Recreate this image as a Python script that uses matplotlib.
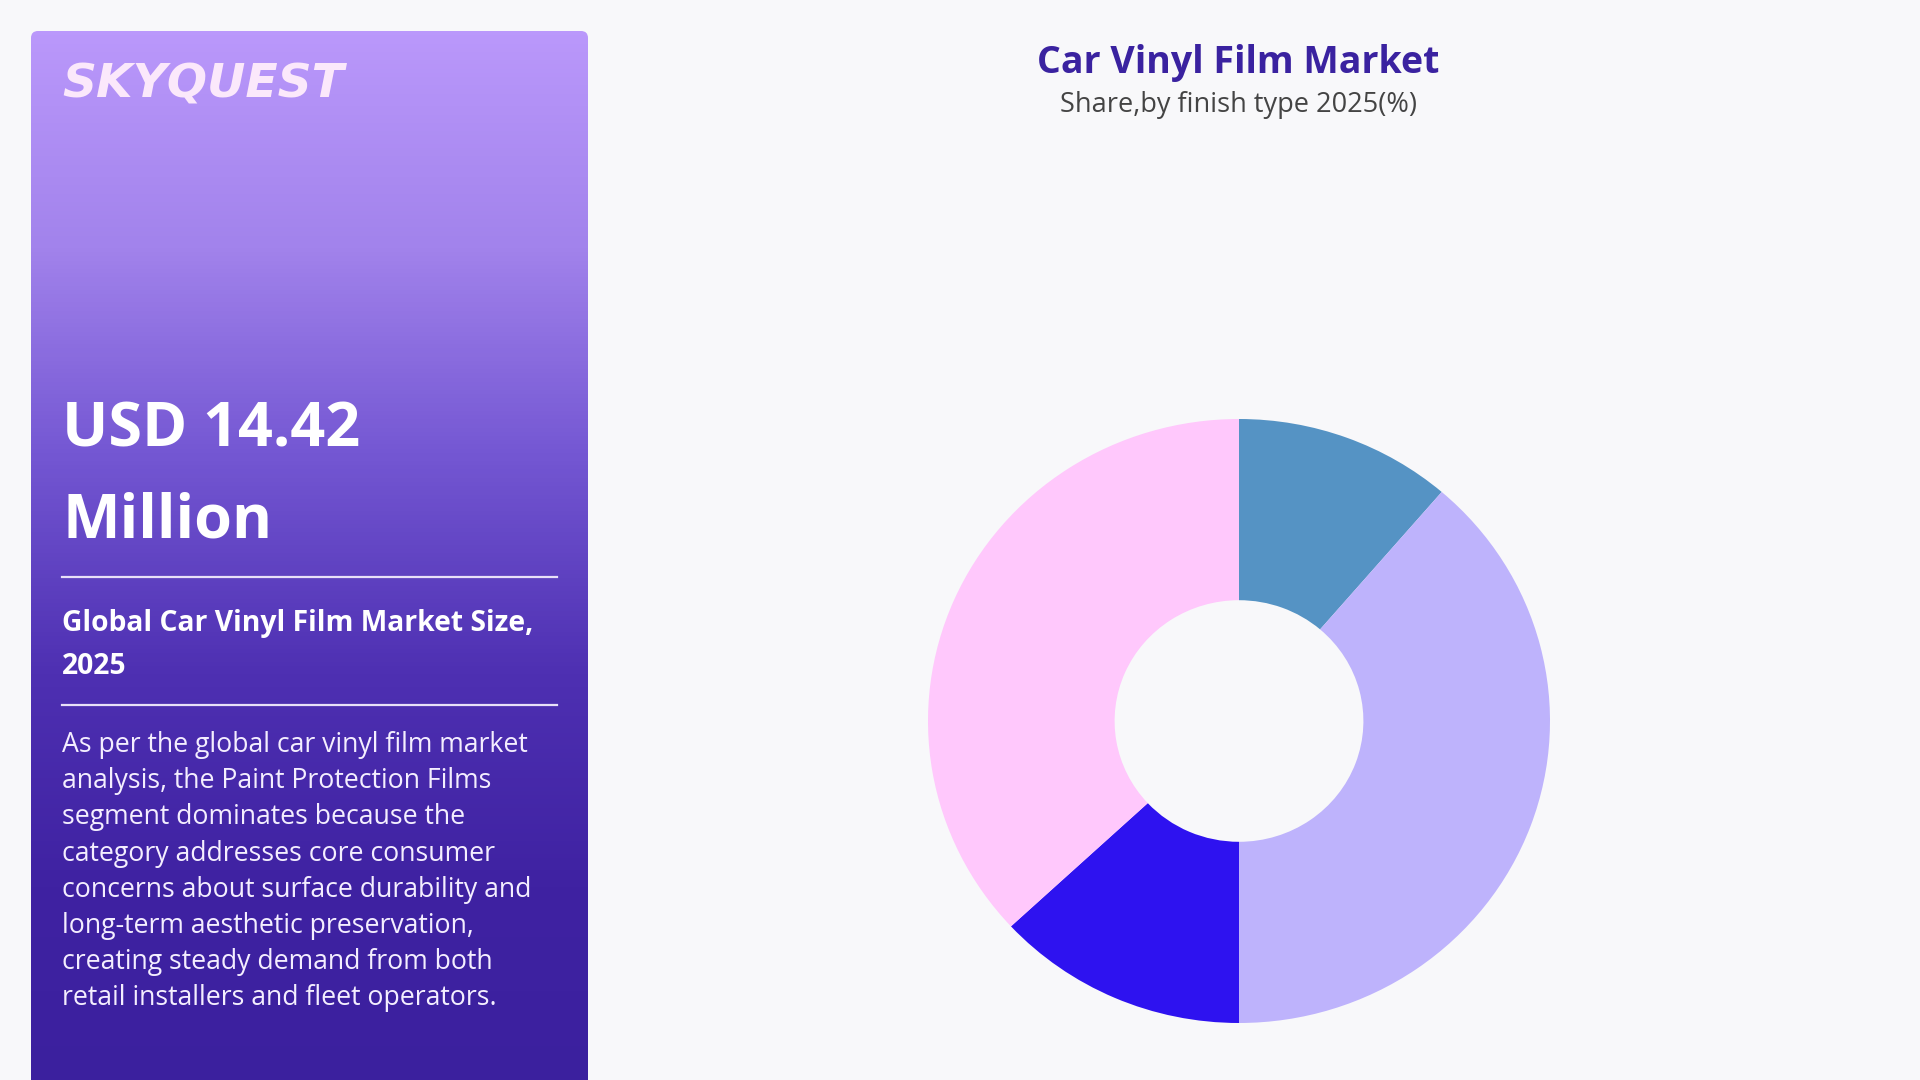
import matplotlib
matplotlib.use("Agg")
import matplotlib.pyplot as plt
import numpy as np
from matplotlib.colors import LinearSegmentedColormap
from matplotlib.patches import FancyBboxPatch

# Donut data: share by finish type, 2025 (%)
segments = ["Gloss", "Matte", "Satin", "Paint Protection Films"]
shares = [11.3, 38.7, 13.1, 36.9]
seg_colors = ["#5593C4", "#BEB3FC", "#2E12F0", "#FFC8FC"]

# Panel texts
headline = ["USD 14.42", "Million"]
subhead = ["Global Car Vinyl Film Market Size,", "2025"]
body = [
    "As per the global car vinyl film market",
    "analysis, the Paint Protection Films",
    "segment dominates because the",
    "category addresses core consumer",
    "concerns about surface durability and",
    "long-term aesthetic preservation,",
    "creating steady demand from both",
    "retail installers and fleet operators.",
]

W, H = 1920, 1080
bg = "#F8F8FA"
font = "Open Sans"

fig = plt.figure(figsize=(W / 100, H / 100), dpi=100, facecolor=bg)

# Background axes in pixel coordinates
base = fig.add_axes([0, 0, 1, 1])
base.set_xlim(0, W)
base.set_ylim(H, 0)
base.axis("off")

# Left gradient panel
px0, py0, px1, py1 = 31, 31, 588, 1100
grad = LinearSegmentedColormap.from_list(
    "panel", ["#BA98FB", "#A283EC", "#7356D2", "#4E30B2", "#3F22A2", "#3B209E"])
g = np.linspace(0, 1, 256).reshape(-1, 1)
im = base.imshow(g, cmap=grad, extent=[px0, px1, py1, py0], aspect="auto", zorder=1)
box = FancyBboxPatch((px0, py0), px1 - px0, py1 - py0,
                     boxstyle="round,pad=0,rounding_size=7",
                     transform=base.transData, facecolor="none", edgecolor="none")
base.add_patch(box)
im.set_clip_path(box)

# Logo
base.text(62, 85, "SKYQUEST", color="#FBE8FB", fontsize=34, fontweight="heavy",
          fontstyle="italic", family="DejaVu Sans", va="center", ha="left", zorder=3)

# Headline
for i, line in enumerate(headline):
    base.text(62, 431 + i * 91, line, color="white", fontsize=44, fontweight="bold",
              family=font, va="center", ha="left", zorder=3)

# Separators
for y in (577, 705):
    base.plot([62, 557], [y, y], color="#E8E0F8", lw=1.6, zorder=3)

# Subhead
for i, line in enumerate(subhead):
    base.text(62, 624 + i * 42, line, color="white", fontsize=20.3, fontweight="bold",
              family=font, va="center", ha="left", zorder=3)

# Body
for i, line in enumerate(body):
    base.text(62, 745 + i * 36.2, line, color="#F4EEFF", fontsize=19.2,
              family=font, va="center", ha="left", zorder=3)

# Titles
base.text(1238, 63, "Car Vinyl Film Market", color="#3A22A0", fontsize=27,
          fontweight="bold", family=font, ha="center", va="center", zorder=3)
base.text(1238, 105, "Share,by finish type 2025(%)", color="#444444", fontsize=19.5,
          family=font, ha="center", va="center", zorder=3)

# Donut chart
cx, cy, rx, ry = 1239, 721, 311, 302
ax = fig.add_axes([(cx - rx) / W, (H - cy - ry) / H, 2 * rx / W, 2 * ry / H])
ax.pie(shares, colors=seg_colors, startangle=90, counterclock=False, radius=1,
       wedgeprops=dict(width=0.6, edgecolor="none"))
ax.set_xlim(-1, 1)
ax.set_ylim(-1, 1)
ax.set_aspect("auto")
ax.axis("off")

fig.savefig("out.png", dpi=100, facecolor=bg)
